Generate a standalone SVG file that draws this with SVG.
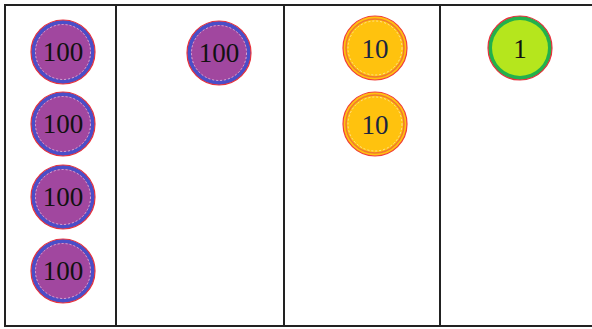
<svg xmlns="http://www.w3.org/2000/svg" width="592" height="329" viewBox="0 0 592 329">
<style>
.grid{stroke:#222;stroke-width:2;fill:none}
.t{font-family:"Liberation Serif",serif;font-size:27px;text-anchor:middle;dominant-baseline:central}
.p-out{fill:#4a4ec8;stroke:#e8323c;stroke-width:1.2}
.p-in{fill:#a1479f}
.p-dash{fill:none;stroke:#e8c0e0;stroke-width:0.8;stroke-dasharray:2 2}
.y-out{fill:#ffc20e;stroke:#f0403a;stroke-width:1.2}
.y-ring{fill:none;stroke:#f07830;stroke-width:1.5}
.y-dash{fill:none;stroke:#ffe8b0;stroke-width:0.8;stroke-dasharray:2 2}
.g-out{fill:#22b14c;stroke:#e8323c;stroke-width:1.2}
.g-in{fill:#b5e61d}
</style>
<defs>
<g id="c100">
<circle r="32" class="p-out"/>
<circle r="28" class="p-in"/>
<circle r="27.5" class="p-dash"/>
<text class="t" y="0" fill="#111">100</text>
</g>
<g id="c10">
<circle r="32" class="y-out"/>
<circle r="29" class="y-ring"/>
<circle r="27" class="y-dash"/>
<text class="t" y="1" fill="#1a2540">10</text>
</g>
<g id="c1">
<circle r="32" class="g-out"/>
<circle r="28" class="g-in"/>
<text class="t" y="1" fill="#111">1</text>
</g>
</defs>
<g id="table">
<rect x="5" y="5" width="600" height="321" class="grid"/>
<line x1="116" y1="5" x2="116" y2="326" class="grid"/>
<line x1="284" y1="5" x2="284" y2="326" class="grid"/>
<line x1="440" y1="5" x2="440" y2="326" class="grid"/>
</g>
<g id="coin-h1"><use href="#c100" x="63" y="52"/></g>
<g id="coin-h2"><use href="#c100" x="63" y="124"/></g>
<g id="coin-h3"><use href="#c100" x="63" y="197"/></g>
<g id="coin-h4"><use href="#c100" x="63" y="271"/></g>
<g id="coin-h5"><use href="#c100" x="219" y="53"/></g>
<g id="coin-t1"><use href="#c10" x="375" y="48"/></g>
<g id="coin-t2"><use href="#c10" x="375" y="124"/></g>
<g id="coin-o1"><use href="#c1" x="520" y="48"/></g>
<g id="connectors"/>
</svg>
